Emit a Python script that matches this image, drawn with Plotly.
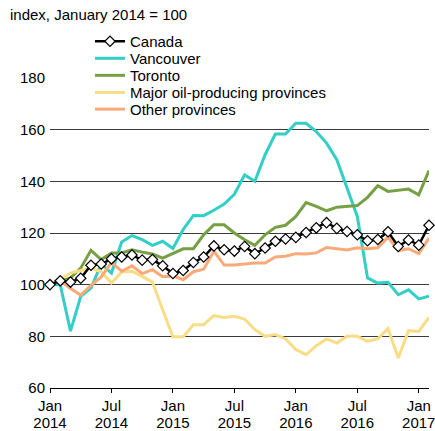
import plotly.graph_objects as go

months = list(range(38))  # Jan 2014 .. Feb 2017
tick_pos = [0, 6, 12, 18, 24, 30, 36]
tick_month = ["Jan", "Jul", "Jan", "Jul", "Jan", "Jul", "Jan"]
tick_year = ["2014", "2014", "2015", "2015", "2016", "2016", "2017"]

canada = [100, 101.5, 101, 102.5, 107.5, 108, 110, 110.7, 111.5, 109.5, 109.7, 107.3,
          104.3, 105.5, 108.6, 110.7, 115, 113.5, 113, 114.8, 112, 114.2, 116.8, 117.7,
          118.3, 120.2, 122, 124, 121.8, 120.6, 119.3, 117, 117.5, 120.5, 114.8, 117.3,
          115.3, 123]
vancouver = [100, 100, 82, 95.5, 98.7, 108, 104.5, 116.5, 119, 117.4, 115.2, 116.8,
             114, 121.3, 126.8, 126.7, 128.8, 131.2, 135, 142.5, 140, 150.3, 158.3, 158.3,
             162.5, 162.5, 159.3, 154.8, 148.4, 137.5, 126.4, 102.6, 100.6, 100.9, 96.1, 98,
             94.5, 95.5]
toronto = [100, 101.3, 102.6, 106.4, 113.3, 109.7, 112.3, 112.3, 113.5, 112.6, 111.9, 110.3,
           112, 113.9, 113.9, 119.3, 123.2, 123.2, 120, 117.4, 115.2, 119.3, 122.2, 123,
           126.4, 131.8, 130.3, 128.6, 130, 130.3, 130.6, 133.8, 138.3, 136.1, 136.5, 137,
           134.8, 144.2]
oil = [100, 102.4, 104.5, 105.5, 106.4, 105, 100.6, 104.9, 105.2, 103.2, 101, 90.3,
       79.8, 79.8, 84.5, 84.5, 88, 87.3, 87.8, 86.7, 82.6, 80, 80.7, 79,
       74.9, 72.9, 76.4, 79, 77.4, 80, 80, 78.1, 79, 83, 71.6, 82.2,
       81.9, 87.3]
other = [100, 101.5, 98.5, 96, 99.7, 103, 108.6, 105.2, 107.3, 104.3, 105.8, 103.1,
         103.4, 101.9, 105, 106, 113, 107.6, 107.6, 108, 108.4, 108.4, 110.7, 111,
         112, 111.9, 112.3, 114.4, 113.9, 113.4, 114.3, 113.9, 114.3, 118.4, 113.2, 113.9,
         112, 118]

font = "Liberation Sans, Arial, sans-serif"

# (name, values, colour, legend id)
series = [
    ("Vancouver", vancouver, "#33CEC6", "legend2"),
    ("Toronto", toronto, "#76A043", "legend3"),
    ("Major oil-producing provinces", oil, "#F8DD86", "legend4"),
    ("Other provinces", other, "#F9AA78", "legend5"),
]

fig = go.Figure()
for name, vals, col, lg in series:
    fig.add_trace(go.Scatter(x=months, y=vals, name=name, mode="lines", legend=lg,
                             line=dict(color=col, width=3), cliponaxis=False))
# Canada drawn on the overlaying x axis (same range) so it sits on top and
# that axis carries the year labels
fig.add_trace(go.Scatter(x=months, y=canada, name="Canada", mode="lines+markers",
                         legend="legend", xaxis="x2", yaxis="y",
                         line=dict(color="black", width=2.5),
                         marker=dict(symbol="diamond", size=8, color="white",
                                     line=dict(color="black", width=1.2)),
                         cliponaxis=False))

leg_x = 0.1055
leg_tops = [1.171, 1.116, 1.061, 1.006, 0.952]
leg_common = dict(x=leg_x, xanchor="left", yanchor="top", bgcolor="rgba(0,0,0,0)",
                  font=dict(size=15, family=font), itemwidth=30)

fig.update_layout(
    width=435, height=431,
    margin=dict(l=50, r=6, t=78, b=43, autoexpand=False),
    paper_bgcolor="white", plot_bgcolor="white",
    font=dict(family=font, size=15, color="black"),
    showlegend=True,
    legend=dict(y=leg_tops[0], **leg_common),
    legend2=dict(y=leg_tops[1], **leg_common),
    legend3=dict(y=leg_tops[2], **leg_common),
    legend4=dict(y=leg_tops[3], **leg_common),
    legend5=dict(y=leg_tops[4], **leg_common),
    xaxis=dict(range=[0, 37], tickmode="array", tickvals=tick_pos, ticktext=tick_month,
               showgrid=False, zeroline=False, showline=True, linecolor="black",
               linewidth=1, ticks="outside", ticklen=4, tickcolor="black",
               ticklabelstandoff=0, ticklabeloverflow="allow", tickfont=dict(size=15)),
    xaxis2=dict(range=[0, 37], overlaying="x", anchor="y", side="bottom",
                tickmode="array", tickvals=tick_pos, ticktext=tick_year,
                showgrid=False, zeroline=False, showline=False, ticks="",
                ticklabelstandoff=24, ticklabeloverflow="allow", tickfont=dict(size=15)),
    yaxis=dict(range=[60, 180], tickmode="array", tickvals=[60, 80, 100, 120, 140, 160, 180],
               showgrid=True, gridcolor="#3a3a3a", gridwidth=1, zeroline=False,
               showline=False, ticks="", ticklabelstandoff=4, tickfont=dict(size=15)),
    shapes=[dict(type="rect", xref="paper", yref="paper",
                 x0=(70 - 50) / 379, x1=(340 - 50) / 379,
                 y0=(388 - 118) / 310, y1=(388 - 33) / 310,
                 fillcolor="white", line=dict(width=0), layer="between")],
    annotations=[dict(text="index, January 2014 = 100", xref="paper", yref="paper",
                      x=-0.11, y=1.205, xanchor="left", yanchor="middle",
                      showarrow=False, font=dict(size=15))],
)

fig.write_html("out.html", config={"displayModeBar": False},
               post_script="document.body.style.margin='0px';")
